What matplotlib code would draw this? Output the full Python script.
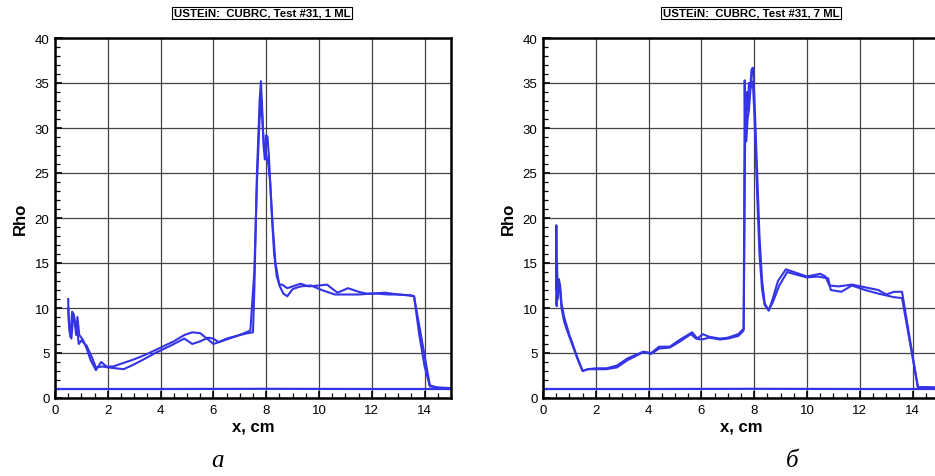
import matplotlib
matplotlib.use("Agg")
import matplotlib.pyplot as plt
from matplotlib.ticker import MultipleLocator

plt.rcParams['font.family'] = ['Liberation Sans', 'DejaVu Sans']

# --- data (x in cm, Rho) ---
titles = ["USTEiN:  CUBRC, Test #31, 1 ML", "USTEiN:  CUBRC, Test #31, 7 ML"]
panel_labels = ["а", "б"]

# left panel, 1 ML
l1_x = [0.50, 0.52, 0.58, 0.65, 0.72, 0.80, 0.85, 0.92, 1.05, 1.2, 1.35, 1.55, 1.75, 1.95,
        2.2, 2.6, 3.0, 3.5, 4.0, 4.5, 4.9, 5.2, 5.5, 5.8, 6.0, 6.2, 6.5, 7.0, 7.3, 7.5,
        7.55, 7.65, 7.75, 7.8, 7.85, 7.9, 7.95, 8.0, 8.05, 8.1, 8.2, 8.3, 8.4, 8.5, 8.6,
        8.8, 9.0, 9.3, 9.6, 10.0, 10.3, 10.7, 11.1, 11.5, 11.8, 12.2, 12.6, 13.0, 13.4,
        13.6, 13.8, 14.0, 14.2, 14.5, 15.0]
l1_y = [11.0, 8.5, 6.8, 9.6, 9.2, 7.0, 9.0, 7.0, 6.5, 5.5, 4.2, 3.1, 4.0, 3.5,
        3.5, 3.9, 4.3, 4.9, 5.6, 6.3, 7.0, 7.3, 7.2, 6.5, 6.0, 6.2, 6.6, 7.0, 7.2, 7.3,
        12.0, 25.0, 33.0, 35.2, 32.0, 28.0, 26.5, 29.2, 29.0, 27.0, 21.0, 16.0, 13.5, 12.6, 12.6,
        12.2, 12.4, 12.7, 12.4, 12.5, 12.6, 11.7, 12.2, 11.8, 11.6, 11.6, 11.5, 11.5, 11.4,
        11.3, 7.0, 3.5, 1.3, 1.15, 1.1]

l2_x = [0.5, 0.55, 0.62, 0.7, 0.78, 0.83, 0.9, 1.0, 1.2, 1.4, 1.55, 1.8, 2.0, 2.3, 2.6,
        2.9, 3.3, 3.8, 4.3, 4.9, 5.2, 5.5, 5.8, 6.0, 6.2, 6.5, 7.0, 7.4, 7.55, 7.65, 7.75,
        7.82, 7.87, 7.92, 8.0, 8.08, 8.15, 8.25, 8.35, 8.5, 8.65, 8.8, 9.0, 9.3, 9.7, 10.1,
        10.6, 11.0, 11.5, 12.0, 12.5, 13.0, 13.5, 13.6, 14.2, 14.5, 15.0]
l2_y = [10.0, 7.5, 6.6, 9.3, 8.0, 7.8, 6.0, 6.4, 5.8, 4.5, 3.4, 3.5, 3.4, 3.3, 3.2,
        3.6, 4.2, 5.0, 5.7, 6.6, 6.0, 6.3, 6.7, 6.6, 6.2, 6.5, 7.0, 7.5, 14.0, 24.0, 31.0,
        33.2, 30.0, 28.0, 27.0, 26.0, 24.0, 19.0, 15.0, 12.5, 11.6, 11.3, 12.1, 12.4, 12.5, 12.0,
        11.5, 11.5, 11.5, 11.6, 11.7, 11.5, 11.4, 11.3, 1.4, 1.15, 1.1]

# right panel, 7 ML
r1_x = [0.5, 0.505, 0.52, 0.53, 0.56, 0.6, 0.65, 0.7, 0.8, 0.9, 1.0, 1.1, 1.3, 1.5, 1.7,
        2.0, 2.4, 2.8, 3.2, 3.6, 3.8, 4.1, 4.4, 4.8, 5.2, 5.65, 5.85, 6.05, 6.3, 6.7, 7.0,
        7.4, 7.6, 7.62, 7.64, 7.66, 7.68, 7.7, 7.73, 7.76, 7.8, 7.85, 7.9, 7.95, 8.0, 8.05,
        8.1, 8.2, 8.3, 8.4, 8.55, 8.7, 8.9, 9.2, 9.6, 10.0, 10.5, 10.7, 10.85, 11.2, 11.7,
        12.2, 12.7, 13.0, 13.3, 13.6, 14.2, 14.5, 15.0]
r1_y = [12.0, 19.2, 10.2, 15.0, 12.0, 13.2, 12.5, 10.5, 9.0, 8.0, 7.0, 6.2, 4.5, 3.0, 3.2,
        3.3, 3.3, 3.6, 4.4, 4.9, 5.15, 5.0, 5.7, 5.7, 6.5, 7.3, 6.6, 7.1, 6.8, 6.6, 6.7,
        7.1, 7.7, 20.0, 35.3, 29.0, 33.0, 30.0, 34.0, 32.0, 35.0, 34.5, 36.5, 36.7, 34.0, 30.0,
        26.0, 18.0, 13.0, 10.5, 9.7, 11.0, 13.0, 14.3, 13.9, 13.5, 13.8, 13.5, 12.5, 12.4, 12.6,
        12.3, 12.0, 11.5, 11.8, 11.8, 1.2, 1.2, 1.15]

r2_x = [0.5, 0.53, 0.56, 0.6, 0.65, 0.7, 0.8, 0.9, 1.0, 1.1, 1.3, 1.5, 1.7, 2.0, 2.4,
        2.8, 3.2, 3.6, 3.8, 4.1, 4.4, 4.8, 5.2, 5.6, 5.8, 6.0, 6.3, 6.7, 7.0, 7.4, 7.6,
        7.63, 7.66, 7.7, 7.75, 7.8, 7.85, 7.9, 7.95, 8.0, 8.05, 8.12, 8.2, 8.3, 8.4, 8.55,
        8.7, 8.95, 9.25, 9.6, 10.0, 10.4, 10.8, 10.9, 11.3, 11.7, 12.2, 12.7, 13.0, 13.3,
        13.6, 14.2, 14.5, 15.0]
r2_y = [10.5, 12.5, 11.0, 12.8, 12.0, 10.0, 8.5, 7.6, 6.8, 6.0, 4.4, 3.0, 3.2, 3.2, 3.2,
        3.4, 4.2, 4.8, 5.1, 4.9, 5.5, 5.6, 6.3, 7.1, 6.6, 6.5, 6.7, 6.5, 6.6, 6.9, 7.5,
        18.0, 31.0, 28.5, 31.0, 32.0, 34.0, 35.2, 35.0, 32.0, 28.0, 22.0, 16.0, 12.0, 10.3, 9.8,
        10.6, 12.5, 14.0, 13.7, 13.4, 13.5, 13.3, 12.0, 11.8, 12.5, 12.0, 11.6, 11.4, 11.2,
        11.1, 1.2, 1.2, 1.15]

# free stream level
inf_x = [0, 4, 8, 12, 15]
inf_y = [1.0, 1.0, 1.02, 1.0, 1.0]

panels = [
    ([(l1_x, l1_y), (l2_x, l2_y)], 55, 262, 218),
    ([(r1_x, r1_y), (r2_x, r2_y)], 543, 751, 792),
]

W, H = 935, 477
blue = "#3434e6"
fig = plt.figure(figsize=(W / 100, H / 100), dpi=100)

for i, (curves, left_px, title_px, lab_px) in enumerate(panels):
    ax = fig.add_axes([left_px / W, (H - 399) / H, 396 / W, 360 / H])
    ax.plot(inf_x, inf_y, color=blue, lw=1.6)
    for cx, cy in curves:
        ax.plot(cx, cy, color=blue, lw=1.5)
    ax.set_xlim(0, 15)
    ax.set_ylim(0, 40)
    ax.xaxis.set_major_locator(MultipleLocator(2))
    ax.xaxis.set_minor_locator(MultipleLocator(0.5))
    ax.yaxis.set_major_locator(MultipleLocator(5))
    ax.yaxis.set_minor_locator(MultipleLocator(1))
    ax.grid(True, which="major", color="#444444", lw=0.9)
    ax.set_axisbelow(True)
    ax.tick_params(which="both", direction="in", top=False, right=False, labelsize=9.5)
    ax.tick_params(which="major", length=5, width=1.2, pad=4)
    ax.tick_params(which="minor", length=3.5, width=0.9)
    for s in ax.spines.values():
        s.set_linewidth(1.8)
    ax.set_xlabel("x, cm", fontsize=12, fontweight="bold", labelpad=2)
    ax.set_ylabel("Rho", fontsize=12, fontweight="bold", labelpad=5)

    fig.text(title_px / W, 1 - 14 / H, titles[i], fontsize=8.2, fontweight="bold",
             ha="center", va="center",
             bbox=dict(boxstyle="square,pad=0.12", fc="white", ec="black", lw=0.8))
    fig.text(lab_px / W, 1 - 461 / H, panel_labels[i], fontsize=18,
             fontstyle="italic", family=["Liberation Serif", "DejaVu Serif"],
             ha="center", va="center")

fig.savefig("out.png", dpi=100)
